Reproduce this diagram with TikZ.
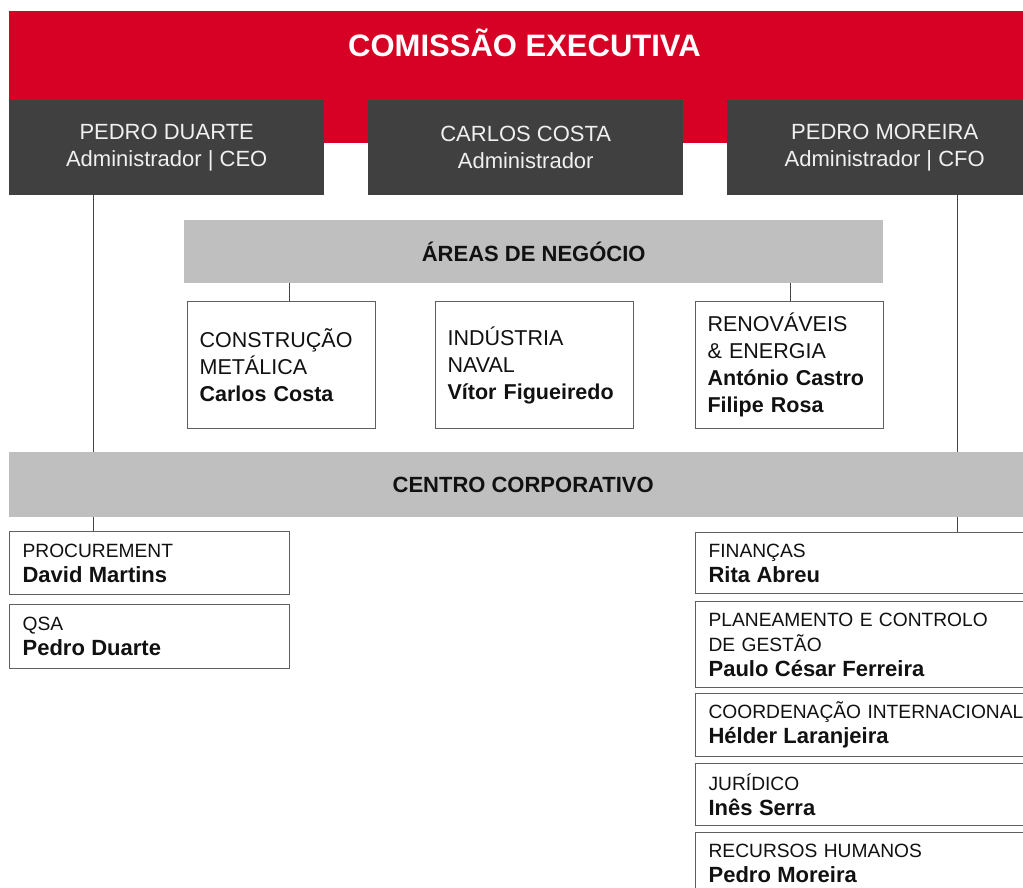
\documentclass[tikz,border=0pt]{standalone}
\usepackage{fontspec}
\setmainfont{Liberation Sans}
\usetikzlibrary{backgrounds}
\definecolor{cred}{RGB}{215,0,37}
\definecolor{cdark}{RGB}{64,64,64}
\definecolor{cbar}{RGB}{191,191,191}
\definecolor{cline}{RGB}{70,70,70}
\definecolor{cborder}{RGB}{95,95,95}
\definecolor{ctext}{RGB}{17,17,17}
\newcommand\pname[1]{{\fontsize{22}{25}\selectfont\bfseries #1}}
\begin{document}
\begin{tikzpicture}[x=1pt,y=-1pt,
 redbar/.style={fill=cred, draw=none, anchor=north west, inner sep=0pt, minimum width=1040pt, minimum height=132pt},
 titletext/.style={text=white, font=\bfseries\fontsize{31}{36}\selectfont},
 adm/.style={fill=cdark, anchor=north west, inner sep=0pt, minimum width=315pt, minimum height=95pt, text=white!94!black, align=center, font=\fontsize{22}{27}\selectfont},
 graybar/.style={fill=cbar, anchor=north west, inner sep=0pt, minimum height=63pt, font=\bfseries\fontsize{22}{26}\selectfont, text=ctext},
 areabox/.style={draw=cborder, line width=1.2pt, fill=white, anchor=north west, inner xsep=12pt, inner ysep=0pt, minimum height=127pt, align=left, font=\fontsize{21.5}{27}\selectfont, text=ctext},
 unitbox/.style={draw=cborder, line width=1.2pt, fill=white, anchor=north west, inner xsep=13pt, inner ysep=0pt, align=left, font=\fontsize{19.2}{25}\selectfont, text=ctext},
 link/.style={draw=cline, line width=1pt}
]
\useasboundingbox (0,0) rectangle (1023,888);
\clip (0,0) rectangle (1023,888);

\node[redbar] (ce) at (9,11) {};
\node[titletext] (cet) at (524.5,43) {COMISSÃO EXECUTIVA};
\node[adm] (pd) at (9,100) {PEDRO DUARTE\\Administrador | CEO};
\node[adm] (cc) at (368,100) {CARLOS COSTA\\Administrador};
\node[adm] (pm) at (727,100) {PEDRO MOREIRA\\Administrador | CFO};

\node[graybar, minimum width=699pt] (an) at (184,220) {ÁREAS DE NEGÓCIO};
\node[areabox, text width=164pt] (cm) at (187,301) {CONSTRUÇÃO\\METÁLICA\\\textbf{Carlos Costa}};
\node[areabox, text width=174pt] (in) at (435,301) {INDÚSTRIA\\NAVAL\\\textbf{Vítor Figueiredo}};
\node[areabox, text width=164pt] (re) at (695,301) {RENOVÁVEIS\\\& ENERGIA\\\textbf{António Castro}\\\textbf{Filipe Rosa}};

\node[graybar, minimum width=1028pt, minimum height=65pt] (cp) at (9,452) {CENTRO CORPORATIVO};

\node[unitbox, text width=254pt, minimum height=63pt] (proc) at (9,531) {PROCUREMENT\\\pname{David Martins}};
\node[unitbox, text width=254pt, minimum height=64pt] (qsa) at (9,604) {QSA\\\pname{Pedro Duarte}};

\node[unitbox, text width=334pt, minimum height=61pt] (fin) at (695,532) {FINANÇAS\\\pname{Rita Abreu}};
\node[unitbox, text width=334pt, minimum height=86pt] (plan) at (695,601) {PLANEAMENTO E CONTROLO\\DE GESTÃO\\\pname{Paulo César Ferreira}};
\node[unitbox, text width=334pt, minimum height=63pt] (coord) at (695,693) {COORDENAÇÃO INTERNACIONAL\\\pname{Hélder Laranjeira}};
\node[unitbox, text width=334pt, minimum height=62pt] (jur) at (695,763) {JURÍDICO\\\pname{Inês Serra}};
\node[unitbox, text width=334pt, minimum height=62pt] (rh) at (695,832) {RECURSOS HUMANOS\\\pname{Pedro Moreira}};

\coordinate (l1) at ([xshift=84pt]pd.south west);
\coordinate (l2) at ([xshift=230pt]pm.south west);
\coordinate (l3) at ([xshift=102pt]cm.north west);
\coordinate (l4) at ([xshift=95pt]re.north west);
\begin{pgfonlayer}{background}
\fill[white] (0,0) rectangle (1023,888);
\draw[link] (l1) -- (l1 |- proc.north);
\draw[link] (l2) -- (l2 |- fin.north);
\draw[link] (l3) -- (l3 |- an.south);
\draw[link] (l4) -- (l4 |- an.south);
\end{pgfonlayer}
\end{tikzpicture}
\end{document}
